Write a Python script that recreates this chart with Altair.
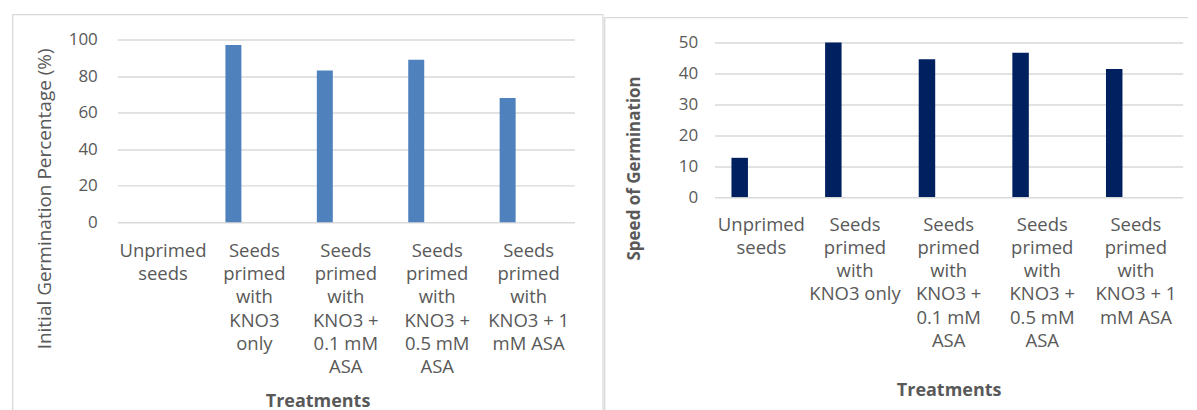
import json
import altair as alt
import pandas as pd

# ---- data ----
treatments = [
    "Unprimed seeds",
    "Seeds primed with KNO3 only",
    "Seeds primed with KNO3 + 0.1 mM ASA",
    "Seeds primed with KNO3 + 0.5 mM ASA",
    "Seeds primed with KNO3 + 1 mM ASA",
]
initial_germination = [0, 97, 83, 89, 68]
speed_of_germination = [12.7, 50, 44.6, 46.7, 41.4]

left_label_lines = [
    ["Unprimed", "seeds"],
    ["Seeds", "primed", "with", "KNO3", "only"],
    ["Seeds", "primed", "with", "KNO3 +", "0.1 mM", "ASA"],
    ["Seeds", "primed", "with", "KNO3 +", "0.5 mM", "ASA"],
    ["Seeds", "primed", "with", "KNO3 + 1", "mM ASA"],
]
right_label_lines = [
    ["Unprimed", "seeds"],
    ["Seeds", "primed", "with", "KNO3 only"],
    ["Seeds", "primed", "with", "KNO3 +", "0.1 mM", "ASA"],
    ["Seeds", "primed", "with", "KNO3 +", "0.5 mM", "ASA"],
    ["Seeds", "primed", "with", "KNO3 + 1", "mM ASA"],
]
left_ticks = [0, 20, 40, 60, 80, 100]
right_ticks = [0, 10, 20, 30, 40, 50]

FONT = "Open Sans"
TXT = "#595959"
GRID = "#D9D9D9"


def label_expr(lines):
    return "%s[indexof(%s, datum.value)]" % (json.dumps(lines), json.dumps(treatments))


df_left = pd.DataFrame({"Treatment": treatments, "Value": initial_germination})
df_right = pd.DataFrame({"Treatment": treatments, "Value": speed_of_germination})

one = alt.Data(values=[{"k": 1}])


def frame_rule(x, x2=None, y=None, y2=None):
    enc = {"x": alt.value(x), "y": alt.value(y)}
    if x2 is not None:
        enc["x2"] = alt.value(x2)
    if y2 is not None:
        enc["y2"] = alt.value(y2)
    return alt.Chart(one).mark_rule(color=GRID, strokeWidth=1.3).encode(**enc)


def panel(df, color, ticks, ydomain, lines, ytitle, ytitle_bold, ytitle_size,
          ytitle_x, ytitle_y, ylab_pad, xtitle_x, xtitle_y, lab_pad,
          bar_w, bar_off):
    xaxis_kw = dict(
        title="Treatments", labelExpr=label_expr(lines), labelAngle=0,
        labelFont=FONT, labelFontSize=18.5, labelColor=TXT, labelLineHeight=23.3,
        labelPadding=lab_pad, labelBaseline="top", labelLimit=0, labelOverlap=False,
        ticks=False, domain=False, grid=False,
        titleFont=FONT, titleFontSize=18, titleFontWeight="bold", titleColor=TXT,
        titleY=xtitle_y, titleBaseline="alphabetic",
    )
    if xtitle_x is not None:
        xaxis_kw["titleX"] = xtitle_x
    return alt.Chart(df).mark_bar(color=color, width=bar_w, xOffset=bar_off).encode(
        x=alt.X("Treatment:N", sort=treatments,
                scale=alt.Scale(paddingInner=0, paddingOuter=0),
                axis=alt.Axis(**xaxis_kw)),
        y=alt.Y("Value:Q", scale=alt.Scale(domain=ydomain, nice=False),
                axis=alt.Axis(
                    values=ticks, title=ytitle, domain=False, ticks=False,
                    gridColor=GRID, gridWidth=1.5,
                    labelFont=FONT, labelFontSize=17, labelColor=TXT, labelPadding=ylab_pad,
                    titleFont=FONT, titleFontSize=ytitle_size,
                    titleFontWeight="bold" if ytitle_bold else "normal",
                    titleColor=TXT, titleAngle=270, titleX=ytitle_x, titleY=ytitle_y,
                    titleBaseline="alphabetic", titleAlign="center")),
    )


left_bars = panel(
    df_left, "#4F81BD", left_ticks, [0, 100], left_label_lines,
    "Initial Germination Percentage (%)", False, 19, -66.7, 159, 20,
    200.5, 184, 19, 16, -21)
left = alt.layer(
    left_bars,
    frame_rule(-104.7, 486.3, -25),
    frame_rule(-104.7, None, -25, 372),
    frame_rule(486.3, None, -25, 372),
).properties(width=457.6, height=183)

# right plot area starts 3px below the left one: top of the scale sits just above 50
right_bars = panel(
    df_right, "#002060", right_ticks, [0, 50.97], right_label_lines,
    "Speed of Germination", True, 17, -75, 128.5, 17,
    None, 199, 18, 16.5, -21.7)
right = alt.layer(
    right_bars,
    frame_rule(-110, 474, -22),
    frame_rule(-110, None, -22, 372),
).properties(width=468.7, height=157.7)

chart = alt.hconcat(left, right, spacing=0).properties(
    padding={"left": 3.4, "top": 5.35, "right": 0, "bottom": 0},
    background="white",
).configure_view(stroke=None)

chart.save("out.html", embed_options={"renderer": "svg", "actions": False})
